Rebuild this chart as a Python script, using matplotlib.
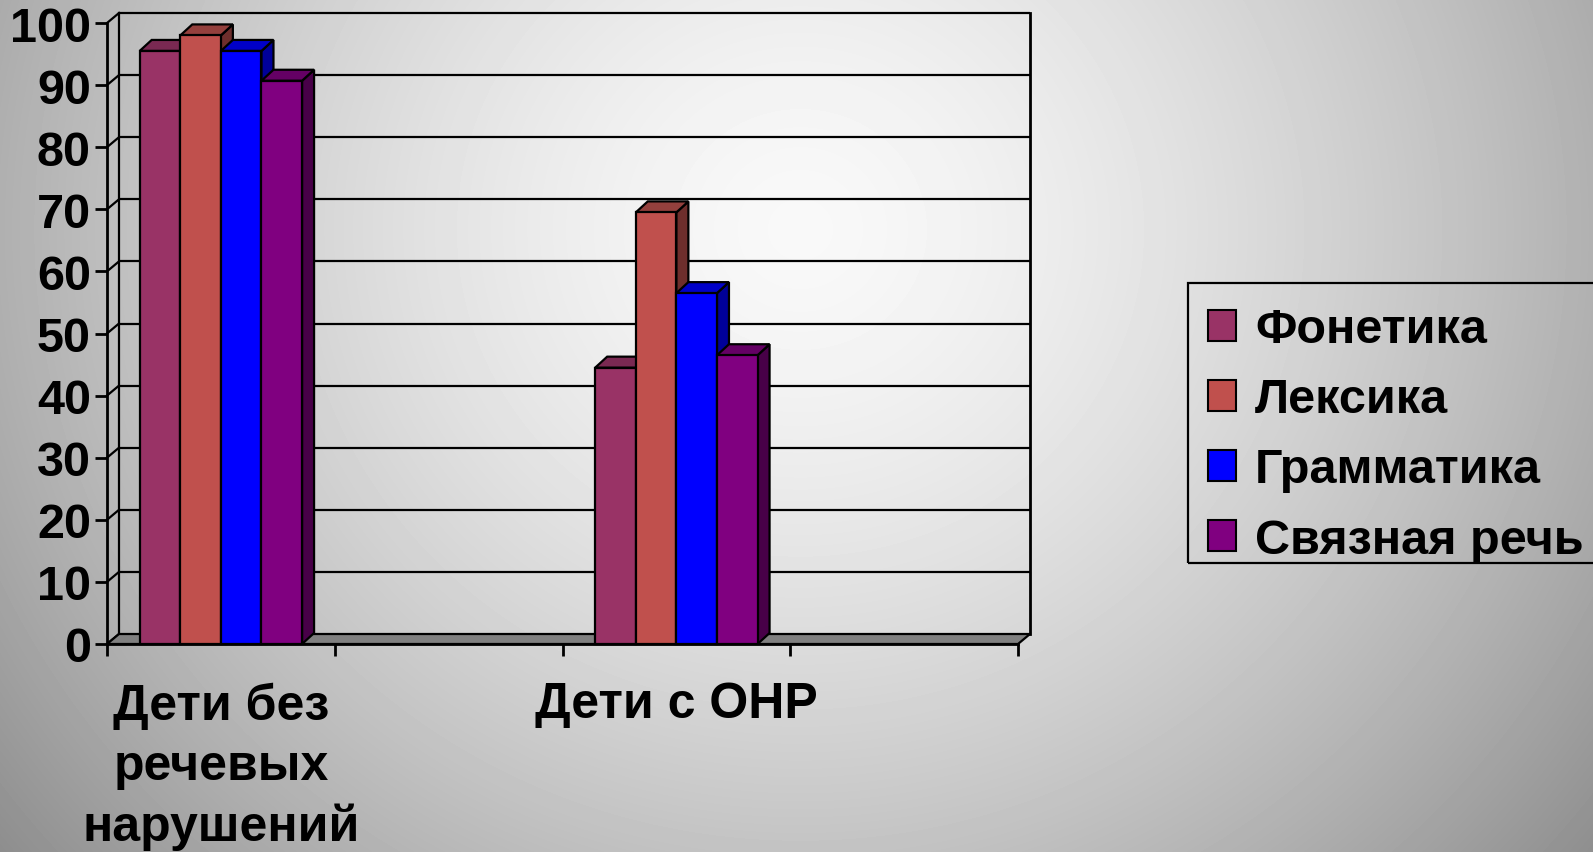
import numpy as np
import matplotlib
matplotlib.use("Agg")
import matplotlib.pyplot as plt
from matplotlib.patches import Polygon, Patch, Rectangle

# ---------------- data ----------------
categories = ["Дети без\nречевых\nнарушений", "Дети с ОНР"]
series_names = ["Фонетика", "Лексика", "Грамматика", "Связная речь"]
fonetika = [95.5, 44.5]
leksika = [98, 69.5]
grammatika = [95.5, 56.5]
svyaznaya_rech = [90.7, 46.5]
series_values = [fonetika, leksika, grammatika, svyaznaya_rech]
y_ticks = list(range(0, 101, 10))

# ---------------- style ----------------
front_colors = ["#993366", "#C0504D", "#0000FF", "#800080"]
top_colors = ["#7A2952", "#94403D", "#0000C8", "#640064"]
side_colors = ["#5C1F3D", "#6E2E2C", "#000099", "#480048"]

plt.rcParams['font.family'] = ['Liberation Sans', 'DejaVu Sans']
plt.rcParams['font.weight'] = 'bold'

W, H = 1593, 853
fig = plt.figure(figsize=(W / 100, H / 100), dpi=100)

# background radial gradient
bg = fig.add_axes([0, 0, 1, 1], zorder=-10)
yy, xx = np.mgrid[0:H, 0:W]
r = np.hypot(xx - 800, (yy - 230) * 1.05)
v = 0.975 - 0.37 * (r / 950) ** 1.5
bg.imshow(v, cmap='gray', vmin=0, vmax=1, aspect='auto', interpolation='bilinear')
bg.axis('off')

# main axes geometry (pixels)
left_px, right_px, y0_px, y100_px = 107, 1018, 645, 24
ax = fig.add_axes([left_px / W, (H - y0_px) / H,
                   (right_px - left_px) / W, (y0_px - y100_px) / H])
ax.patch.set_alpha(0)

n_slots = 2 * len(categories)
positions = [2 * j for j in range(len(categories))]
xmin, xmax = -0.5, n_slots - 0.5
ax.set_xlim(xmin, xmax)
ax.set_ylim(0, 100)

xpp = (xmax - xmin) / (right_px - left_px)   # data units per pixel (x)
ypp = 100 / (y0_px - y100_px)                 # data units per pixel (y)
wdx, wdy = 12 * xpp, 10 * ypp                 # wall depth
bdx, bdy = 12 * xpp, 11 * ypp                 # bar depth

LW = 1.6
# back wall gridlines
for t in y_ticks[1:]:
    ax.plot([xmin + wdx, xmax + wdx], [t + wdy, t + wdy], color='black',
            lw=LW, zorder=1, clip_on=False, solid_capstyle='butt')
# diagonal tick connectors
for t in y_ticks:
    ax.plot([xmin, xmin + wdx], [t, t + wdy], color='black', lw=LW,
            zorder=1, clip_on=False)
# wall verticals
ax.plot([xmin + wdx] * 2, [wdy, 100 + wdy], color='black', lw=LW, zorder=1, clip_on=False)
ax.plot([xmax + wdx] * 2, [wdy, 100 + wdy], color='black', lw=LW + 0.4, zorder=1, clip_on=False)
# floor
floor = Polygon([(xmin, 0), (xmax, 0), (xmax + wdx, wdy), (xmin + wdx, wdy)],
                closed=True, facecolor='#808080', edgecolor='black', lw=LW,
                zorder=1.5, clip_on=False)
ax.add_patch(floor)

# bars
n_series = len(series_values)
group_w = 0.713
bw = group_w / n_series
for i, vals in enumerate(series_values):
    xs = [p - group_w / 2 + i * bw for p in positions]
    z = 3 + i
    bars = ax.bar(xs, vals, width=bw, align='edge', color=front_colors[i],
                  edgecolor='black', linewidth=LW, zorder=z + 0.2, clip_on=False)
    for rect in bars:
        x0, w, h = rect.get_x(), rect.get_width(), rect.get_height()
        top = Polygon([(x0, h), (x0 + w, h), (x0 + w + bdx, h + bdy), (x0 + bdx, h + bdy)],
                      closed=True, facecolor=top_colors[i], edgecolor='black',
                      lw=LW, zorder=z + 0.1, clip_on=False)
        side = Polygon([(x0 + w, 0), (x0 + w + bdx, bdy), (x0 + w + bdx, h + bdy), (x0 + w, h)],
                       closed=True, facecolor=side_colors[i], edgecolor='black',
                       lw=LW, zorder=z, clip_on=False)
        ax.add_patch(top)
        ax.add_patch(side)

# spines
for s in ['top', 'right']:
    ax.spines[s].set_visible(False)
ax.spines['left'].set_linewidth(LW + 0.4)
ax.spines['bottom'].set_linewidth(LW + 0.4)
ax.spines['left'].set_zorder(2)
ax.spines['bottom'].set_zorder(2)

# y ticks
ax.set_yticks(y_ticks)
ax.set_yticklabels([str(t) for t in y_ticks])
ax.tick_params(axis='y', length=8.6, width=LW + 0.4, direction='out', pad=3,
               labelsize=35, colors='black')
for lab in ax.get_yticklabels():
    lab.set_fontweight('bold')

# x ticks: boundaries (major), labels at category centres (minor)
ax.set_xticks([xmin + k for k in range(n_slots + 1)])
ax.set_xticklabels([''] * (n_slots + 1))
ax.tick_params(axis='x', which='major', length=8.6, width=LW + 0.4, direction='out')
ax.set_xticks(positions, minor=True)
ax.set_xticklabels(categories, minor=True, fontsize=36, fontweight='bold',
                   linespacing=1.38, ha='center', va='top')
ax.tick_params(axis='x', which='minor', length=0, pad=27)

# legend (frame drawn separately so it can run off the right edge like the reference)
handles = [Patch(facecolor=c, edgecolor='black', lw=1.5) for c in front_colors]
leg = fig.legend(handles, series_names, loc='upper left',
                 bbox_to_anchor=(1188 / W, 1 - 288 / H),
                 prop={'weight': 'bold', 'size': 35},
                 frameon=False, handlelength=0.56, handleheight=0.62,
                 handletextpad=0.4, labelspacing=0.515, borderpad=0.42,
                 borderaxespad=0)
fig.add_artist(Rectangle((1188 / W, 1 - 564 / H), (W + 20 - 1188) / W, (564 - 284) / H,
                         transform=fig.transFigure, facecolor='none',
                         edgecolor='black', lw=1.6, clip_on=False))

fig.savefig("out.png", dpi=100)
